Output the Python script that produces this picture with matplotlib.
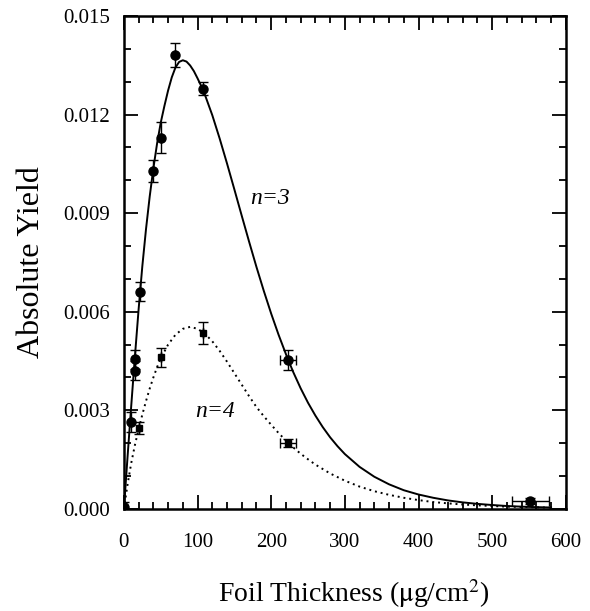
import numpy as np
import matplotlib
matplotlib.use("Agg")
import matplotlib.pyplot as plt
from matplotlib.ticker import MultipleLocator, FormatStrFormatter

# ---- data ----
# n = 3 measurements
n3_x = [0, 9, 14.5, 15.4, 21.7, 39, 49.8, 69.2, 106.8, 223, 552]
n3_y = [0.00005, 0.00264, 0.00421, 0.00455, 0.00661, 0.01028, 0.0113, 0.01381, 0.01278, 0.00453, 0.00024]
n3_yerr = [0.00015, 0.0003, 0.0003, 0.0003, 0.00029, 0.00033, 0.00046, 0.00037, 0.0002, 0.0003, 0.0001]
n3_xerr = [0, 0, 0, 0, 0, 0, 0, 0, 0, 11, 25]

# n = 4 measurements
n4_x = [20.8, 49.8, 106.8, 223]
n4_y = [0.00247, 0.00462, 0.00535, 0.00202]
n4_yerr = [0.00019, 0.00029, 0.00033, 0.00012]
n4_xerr = [0, 0, 0, 11]

# fitted curve n = 3 (solid)
c3_x = [0, 5, 10, 15, 20, 25, 30, 35, 40, 45, 50, 55, 60, 65, 70, 75, 80, 85, 90,
        95, 100, 106.8, 110, 120, 130, 140, 150, 160, 170, 180, 190, 200, 210,
        220, 223, 230, 240, 250, 260, 270, 280, 290, 300, 320, 340, 360, 380,
        400, 420, 440, 460, 480, 500, 520, 540, 560, 580]
c3_y = [0, 0.00160, 0.00315, 0.00465, 0.00608, 0.00738, 0.00851, 0.00950,
        0.01036, 0.01111, 0.01175, 0.01226, 0.01273, 0.01313, 0.01343, 0.01360,
        0.01365, 0.01361, 0.01349, 0.01332, 0.01310, 0.01278, 0.01260, 0.01198,
        0.01127, 0.01051, 0.00972, 0.00892, 0.00813, 0.00736, 0.00663, 0.00594,
        0.00530, 0.00471, 0.00454, 0.00416, 0.00367, 0.00323, 0.00284, 0.00249,
        0.00218, 0.00191, 0.00167, 0.00128, 0.00098, 0.00075, 0.00057, 0.00044,
        0.00034, 0.00026, 0.00020, 0.000155, 0.00012, 0.00009, 0.00007,
        0.000055, 0.000045]

# fitted curve n = 4 (dotted)
c4_x = [0, 5, 10, 15, 20, 25, 30, 35, 40, 45, 50, 60, 70, 80, 90, 100, 110, 120,
        130, 140, 150, 160, 170, 180, 190, 200, 210, 220, 230, 240, 250, 260,
        280, 300, 320, 340, 360, 380, 400, 420, 440, 460, 480, 500, 520, 540,
        560, 580]
c4_y = [0, 0.00075, 0.00140, 0.00195, 0.00243, 0.00287, 0.00328, 0.00366,
        0.00400, 0.00431, 0.00458, 0.00500, 0.00530, 0.00548, 0.00554, 0.00548,
        0.00533, 0.00510, 0.00481, 0.00448, 0.00413, 0.00378, 0.00343, 0.00310,
        0.00282, 0.00256, 0.00231, 0.00208, 0.00187, 0.00168, 0.00151, 0.00135,
        0.00108, 0.00086, 0.00068, 0.00054, 0.00043, 0.00034, 0.00027, 0.00021,
        0.00017, 0.000135, 0.00011, 0.00009, 0.00007, 0.00006, 0.00005, 0.00004]

plt.rcParams['font.family'] = ['Liberation Serif', 'DejaVu Serif']
plt.rcParams['mathtext.fontset'] = 'stix'

fig = plt.figure(figsize=(5.9, 6.11), dpi=100)
ax = fig.add_axes([0.210, 0.167, 0.749, 0.807])

ax.plot(c3_x, c3_y, color='black', lw=1.4, solid_joinstyle='round')
ax.plot(c4_x, c4_y, color='black', lw=1.4, linestyle=(0, (1, 2)))

ax.errorbar(n3_x, n3_y, yerr=n3_yerr, xerr=n3_xerr, fmt='o', color='black',
            ms=6.5, elinewidth=1.0, capsize=3.5, capthick=1.0)
ax.errorbar(n4_x, n4_y, yerr=n4_yerr, xerr=n4_xerr, fmt='s', color='black',
            ms=4.5, elinewidth=1.0, capsize=3.5, capthick=1.0)

ax.text(198, 0.00945, 'n=3', fontsize=17, fontstyle='italic', ha='center', va='center')
ax.text(123.5, 0.00298, 'n=4', fontsize=17, fontstyle='italic', ha='center', va='center')

ax.set_xlim(0, 600)
ax.set_ylim(0, 0.015)
ax.xaxis.set_major_locator(MultipleLocator(100))
ax.xaxis.set_minor_locator(MultipleLocator(20))
ax.yaxis.set_major_locator(MultipleLocator(0.003))
ax.yaxis.set_minor_locator(MultipleLocator(0.001))
ax.yaxis.set_major_formatter(FormatStrFormatter('%.3f'))

ax.tick_params(which='both', direction='in', top=True, right=True, labelsize=15, width=1.3)
ax.tick_params(which='major', length=10)
ax.tick_params(which='minor', length=5)
ax.tick_params(axis='x', which='major', pad=17)
ax.tick_params(axis='y', which='major', pad=10)
for s in ax.spines.values():
    s.set_linewidth(1.8)

ax.set_xlabel(r'Foil Thickness ($\mathrm{\mu}$g/cm$^2$)', fontsize=20)
ax.xaxis.set_label_coords(0.52, -0.138)
ax.set_ylabel('Absolute Yield', fontsize=23, labelpad=12)

fig.savefig('out.png', dpi=100)
